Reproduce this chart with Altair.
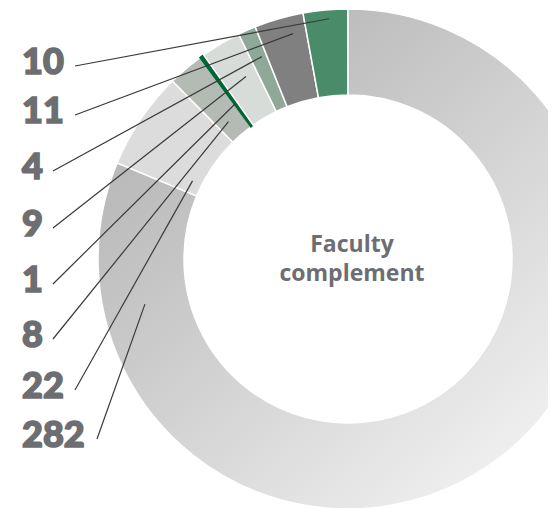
import math
import altair as alt
import pandas as pd

# ---- data (clockwise from 12 o'clock) ----
values = [282, 22, 8, 1, 9, 4, 11, 10]
seg_colors = ["#c8c8c8", "#dcdcdc", "#b4bab4", "#006633", "#d8dcd8", "#8fa898", "#808080", "#4a8c69"]
center_lines = ["Faculty", "complement"]

# ---- layout ----
W, H = 540, 500
CX, CY = 340, 251
R_OUT, R_IN = 250, 164
label_x = 14
label_y = [428, 379, 328, 273, 217, 160, 104, 55]
anchor_r = [208, 174, 182, 192, 209, 220, 232, 241]
anchor_frac = [0.88, 0.18, 0.43, 0.5, 0.65, 0.69, 0.71, 0.57]
TEXT_COLOR = "#6d6e71"

total = sum(values)
rows = []
cum = 0
for i, v in enumerate(values):
    a = 2 * math.pi * (cum + anchor_frac[i] * v) / total
    ex = CX + anchor_r[i] * math.sin(a)
    ey = CY - anchor_r[i] * math.cos(a)
    sx = label_x + 22 * len(str(v)) + 9
    sy = label_y[i] + 3
    rows.append(dict(idx=i, value=v, key=str(v), label=str(v),
                     lx=label_x, ly=label_y[i], sx=sx, sy=sy, ex=ex, ey=ey))
    cum += v
df = pd.DataFrame(rows)

xs = alt.Scale(domain=[0, W], range=[0, W])
ys = alt.Scale(domain=[0, H], range=[0, H])

base = alt.Chart(df)

arcs = base.mark_arc(outerRadius=R_OUT, innerRadius=R_IN, strokeWidth=1.5).encode(
    theta=alt.Theta("value:Q", stack=True),
    order=alt.Order("idx:Q"),
    color=alt.Color("key:N", scale=alt.Scale(domain=[str(v) for v in values], range=seg_colors), legend=None),
    stroke=alt.condition(alt.datum.value == 1, alt.value("#006633"), alt.value("white")),
    x=alt.value(CX), y=alt.value(CY),
)

grad = alt.LinearGradient(
    gradient="linear",
    stops=[alt.GradientStop(color="#b6b6b6", offset=0),
           alt.GradientStop(color="#f2f2f2", offset=1)],
    x1=0.15, y1=0.15, x2=0.85, y2=0.95,
)
big = base.mark_arc(outerRadius=R_OUT, innerRadius=R_IN, stroke="white", strokeWidth=1.5, fill=grad).encode(
    theta=alt.Theta("value:Q", stack=True),
    order=alt.Order("idx:Q"),
    opacity=alt.condition(alt.datum.idx == 0, alt.value(1), alt.value(0)),
    x=alt.value(CX), y=alt.value(CY),
)

leaders = base.mark_rule(color="#3a3a3a", strokeWidth=1.2).encode(
    x=alt.X("sx:Q", scale=xs, axis=None),
    y=alt.Y("sy:Q", scale=ys, axis=None),
    x2="ex:Q", y2="ey:Q",
)

labels = base.mark_text(align="left", baseline="middle", font="Lato", fontWeight=900,
                        fontSize=36, color=TEXT_COLOR, stroke=TEXT_COLOR, strokeWidth=1.6).encode(
    x=alt.X("lx:Q", scale=xs, axis=None),
    y=alt.Y("ly:Q", scale=ys, axis=None),
    text="label:N",
)

cdf = pd.DataFrame({"t": center_lines, "cy": [244, 273], "cx": [344, 344]})
center = alt.Chart(cdf).mark_text(align="center", baseline="alphabetic", font="Open Sans",
                                  fontWeight="bold", fontSize=23, color=TEXT_COLOR).encode(
    x=alt.X("cx:Q", scale=xs, axis=None),
    y=alt.Y("cy:Q", scale=ys, axis=None),
    text="t:N",
)

chart = alt.layer(arcs, big, leaders, labels, center).properties(
    width=W, height=H, padding=0, autosize="none"
).configure_view(stroke=None)

chart.save("out.html", embed_options={"renderer": "svg", "actions": False})
